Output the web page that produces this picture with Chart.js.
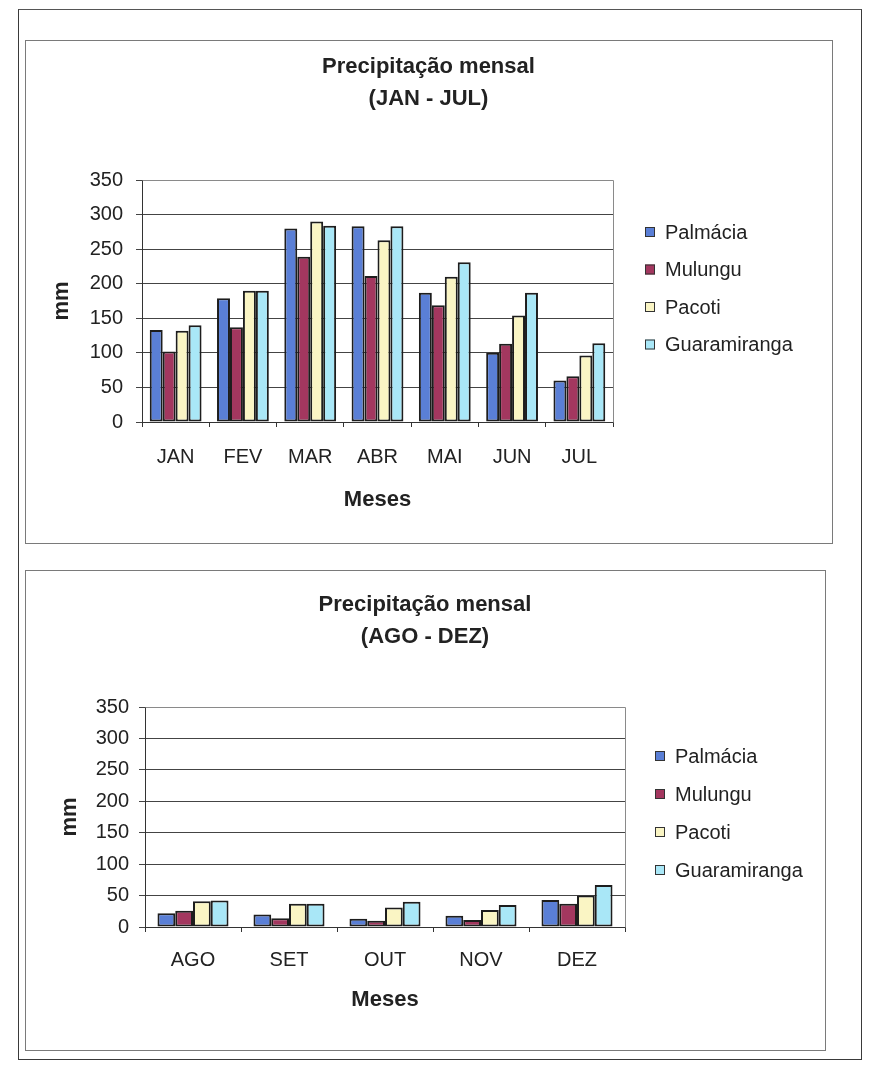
<!DOCTYPE html>
<html>
<head>
<meta charset="utf-8">
<script src="https://cdn.jsdelivr.net/npm/chart.js@4.4.1/dist/chart.umd.min.js"></script>
<style>
  html, body { margin: 0; padding: 0; background: #fff; }
  body { width: 874px; height: 1065px; position: relative; overflow: hidden; }
  .page { position: absolute; left: 18px; top: 9px; width: 842px; height: 1049px; border: 1.5px solid #3a3a3a; border-top-color: #555; }
  .frame { position: absolute; border: 1px solid #7a7a7a; background: #fff; }
  canvas { position: absolute; }
</style>
</head>
<body>
<div class="page"></div>
<div class="frame" style="left:25px;top:40px;width:806px;height:502px"></div>
<canvas id="chartJanJul" width="805" height="501" style="left:26px;top:41px"></canvas>
<div class="frame" style="left:25px;top:570px;width:799px;height:479px"></div>
<canvas id="chartAgoDez" width="798" height="478" style="left:26px;top:571px"></canvas>

<script>
// Monthly rainfall (mm) at four stations
const stations = ['Palmácia', 'Mulungu', 'Pacoti', 'Guaramiranga'];

const monthsJanJul = ['JAN', 'FEV', 'MAR', 'ABR', 'MAI', 'JUN', 'JUL'];
const palmaciaJanJul     = [133, 179, 280, 283, 187, 100, 60];
const mulunguJanJul      = [102, 137, 239, 211, 169, 113, 66];
const pacotiJanJul       = [132, 190, 290, 263, 210, 154, 96];
const guaramirangaJanJul = [140, 190, 284, 283, 231, 187, 114];

const monthsAgoDez = ['AGO', 'SET', 'OUT', 'NOV', 'DEZ'];
const palmaciaAgoDez     = [22, 20, 13, 18, 43];
const mulunguAgoDez      = [26, 14, 10, 11, 37];
const pacotiAgoDez       = [41, 37, 31, 27, 50];
const guaramirangaAgoDez = [42, 37, 40, 35, 67];

const yMin = 0;
const yMax = 350;
const yStep = 50;

const titleJanJul = ['Precipitação mensal', '(JAN - JUL)'];
const titleAgoDez = ['Precipitação mensal', '(AGO - DEZ)'];
const xTitle = 'Meses';
const yTitle = 'mm';

// Styling
const FONT = "'Liberation Sans', Arial, Helvetica, sans-serif";
const INK = '#222';
const stationColors = ['#5a7fd6', '#a3375f', '#faf5c4', '#a9e7f7'];
const barEdge = '#1d1d1d';

function makeDatasets(seriesList) {
  return seriesList.map((values, i) => ({
    label: stations[i],
    data: values,
    backgroundColor: stationColors[i],
    borderColor: barEdge,
    borderWidth: 2,
    borderSkipped: false,
    barPercentage: 1.0
  }));
}

// Legend drawn to the right of the plot area, one row per station
const sideLegend = {
  id: 'sideLegend',
  afterDraw(chart, args, opts) {
    const { ctx, chartArea } = chart;
    ctx.save();
    ctx.font = `${opts.fontSize}px ${FONT}`;
    ctx.textBaseline = 'middle';
    ctx.textAlign = 'left';
    chart.data.datasets.forEach((ds, i) => {
      const x = chartArea.right + opts.left;
      const y = chartArea.top + opts.top + i * opts.spacing;
      ctx.fillStyle = ds.backgroundColor;
      ctx.fillRect(x, y - opts.box / 2, opts.box, opts.box);
      ctx.strokeStyle = '#333';
      ctx.lineWidth = 1;
      ctx.strokeRect(x + 0.5, y - opts.box / 2 + 0.5, opts.box - 1, opts.box - 1);
      ctx.fillStyle = INK;
      ctx.fillText(ds.label, x + opts.box + opts.gap, y + 1);
    });
    ctx.restore();
  }
};

// Grey outline of the plot area
const plotFrame = {
  id: 'plotFrame',
  beforeDatasetsDraw(chart) {
    const { ctx, chartArea } = chart;
    ctx.save();
    ctx.strokeStyle = '#8a8a8a';
    ctx.lineWidth = 1;
    ctx.beginPath();
    ctx.moveTo(Math.round(chartArea.left) + 0.5, Math.round(chartArea.top) + 0.5);
    ctx.lineTo(Math.round(chartArea.right) + 0.5, Math.round(chartArea.top) + 0.5);
    ctx.lineTo(Math.round(chartArea.right) + 0.5, Math.round(chartArea.bottom) + 0.5);
    ctx.stroke();
    ctx.restore();
  }
};

function buildChart(canvasId, labels, seriesList, titleLines, L) {
  return new Chart(document.getElementById(canvasId), {
    type: 'bar',
    data: { labels: labels, datasets: makeDatasets(seriesList) },
    plugins: [plotFrame, sideLegend],
    options: {
      responsive: false,
      animation: false,
      devicePixelRatio: 1,
      datasets: { bar: { categoryPercentage: L.catPct } },
      layout: { padding: 0 },
      plugins: {
        legend: { display: false },
        tooltip: { enabled: false },
        title: {
          display: true,
          text: titleLines,
          color: INK,
          font: { family: FONT, size: 22, weight: 'bold', lineHeight: 32 / 22 },
          padding: { top: L.titleTop, bottom: L.titleBottom }
        },
        sideLegend: L.legend
      },
      scales: {
        x: {
          afterFit(scale) { scale.height = L.xHeight; },
          grid: { display: true, drawOnChartArea: false, drawTicks: true, tickLength: 5, color: '#333', offset: true },
          border: { display: true, color: '#333', width: 1 },
          ticks: { color: INK, font: { family: FONT, size: 20 }, padding: L.xTickPad, maxRotation: 0, autoSkip: false },
          title: {
            display: true, text: xTitle, color: INK,
            font: { family: FONT, size: 22, weight: 'bold' },
            padding: { top: 0, bottom: L.xTitlePad }
          }
        },
        y: {
          min: yMin, max: yMax,
          afterFit(scale) { scale.width = L.yWidth; },
          grid: { color: '#444', lineWidth: 1, drawTicks: true, tickLength: 6 },
          border: { display: true, color: '#333', width: 1 },
          ticks: { stepSize: yStep, color: INK, font: { family: FONT, size: 20 }, padding: L.yTickPad },
          title: {
            display: true, text: yTitle, color: INK,
            font: { family: FONT, size: 22, weight: 'bold' },
            padding: { top: L.yTitlePad, bottom: 0 }
          }
        },
        // empty right-hand band that holds the legend
        legendBand: {
          type: 'linear',
          position: 'right',
          display: true,
          afterFit(scale) { scale.width = L.legendWidth; },
          grid: { display: false, drawTicks: false },
          border: { display: false },
          ticks: { display: false },
          title: { display: false }
        }
      }
    }
  });
}

buildChart('chartJanJul', monthsJanJul,
  [palmaciaJanJul, mulunguJanJul, pacotiJanJul, guaramirangaJanJul],
  titleJanJul,
  {
    catPct: 0.77, legendWidth: 218, titleTop: 10, titleBottom: 65,
    xHeight: 120, xTickPad: 18, xTitlePad: 29,
    yWidth: 116, yTickPad: 13, yTitlePad: 23,
    legend: { left: 32, top: 52, spacing: 37.5, box: 10, gap: 10, fontSize: 20 }
  });

buildChart('chartAgoDez', monthsAgoDez,
  [palmaciaAgoDez, mulunguAgoDez, pacotiAgoDez, guaramirangaAgoDez],
  titleAgoDez,
  {
    catPct: 0.74, legendWidth: 199, titleTop: 18, titleBottom: 54,
    xHeight: 122, xTickPad: 16, xTitlePad: 36,
    yWidth: 119, yTickPad: 10, yTitlePad: 31,
    legend: { left: 30, top: 49, spacing: 38, box: 10, gap: 10, fontSize: 20 }
  });
</script>
</body>
</html>
